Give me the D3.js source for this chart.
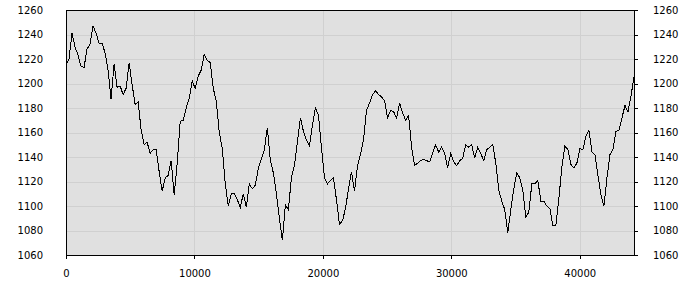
<!DOCTYPE html>
<html>
<head>
<meta charset="utf-8">
<script src="https://cdn.jsdelivr.net/npm/d3@7"></script>
<style>
  body { margin: 0; background: #fff; }
  text { font-family: "DejaVu Sans", sans-serif; font-size: 10px; fill: #000; }
</style>
</head>
<body>
<div id="chart"></div>
<script>
// Sample spacing along the x axis (one reading every step units)
const step = 234;

// Line values, left to right
const values = [
  1215, 1220, 1241, 1230, 1223, 1214, 1213, 1228, 1232, 1247,
  1241, 1233, 1233, 1225, 1211, 1187, 1216, 1197, 1198, 1191,
  1196, 1217, 1199, 1183, 1185, 1162, 1150, 1152, 1143, 1146,
  1146, 1128, 1112, 1123, 1125, 1137, 1109, 1135, 1169, 1170,
  1180, 1188, 1202, 1196, 1206, 1211, 1224, 1219, 1217, 1196,
  1186, 1160, 1147, 1118, 1100, 1110, 1110, 1105, 1099, 1110,
  1099, 1118, 1114, 1117, 1131, 1138, 1146, 1164, 1137, 1127,
  1110, 1090, 1072, 1101, 1097, 1123, 1133, 1152, 1172, 1161,
  1154, 1149, 1166, 1180, 1174, 1148, 1123, 1118, 1121, 1123,
  1105, 1085, 1088, 1098, 1114, 1128, 1112, 1133, 1142, 1154,
  1178, 1184, 1191, 1194, 1191, 1189, 1186, 1172, 1178, 1177,
  1172, 1184, 1176, 1170, 1174, 1148, 1133, 1135, 1137, 1138,
  1137, 1136, 1143, 1150, 1144, 1148, 1143, 1131, 1143, 1136,
  1133, 1137, 1139, 1150, 1148, 1150, 1139, 1148, 1143, 1137,
  1146, 1148, 1150, 1135, 1113, 1104, 1097, 1078, 1097, 1114,
  1127, 1123, 1113, 1091, 1095, 1118, 1118, 1121, 1104, 1104,
  1100, 1098, 1084, 1084, 1106, 1132, 1149, 1146, 1134, 1131,
  1135, 1147, 1146, 1157, 1162, 1144, 1142, 1125, 1109, 1100,
  1123, 1142, 1146, 1161, 1162, 1172, 1182, 1177, 1190, 1205
];

// Axis ticks
const yTicks = [1060, 1080, 1100, 1120, 1140, 1160, 1180, 1200, 1220, 1240, 1260];
const xTicks = [0, 10000, 20000, 30000, 40000];

const margin = {top: 10, right: 66, bottom: 45, left: 66};
const width = 700 - margin.left - margin.right;
const height = 300 - margin.top - margin.bottom;

const data = values.map((v, i) => ({x: i * step, y: v}));

const svg = d3.select("#chart")
  .append("svg")
  .attr("width", width + margin.left + margin.right)
  .attr("height", height + margin.top + margin.bottom)
  .append("g")
  .attr("transform", "translate(" + margin.left + "," + margin.top + ")");

const x = d3.scaleLinear()
  .domain([0, d3.max(data, d => d.x)])
  .range([0, width]);

const y = d3.scaleLinear()
  .domain([1060, 1260])
  .range([height, 0]);

// Plot background
svg.append("rect")
  .attr("width", width)
  .attr("height", height)
  .attr("fill", "#e0e0e0");

// Grid lines
svg.append("g")
  .attr("class", "grid")
  .call(d3.axisLeft(y).tickValues(yTicks.slice(1, -1)).tickSize(-width).tickFormat(""))
  .call(g => g.select(".domain").remove());

svg.append("g")
  .attr("class", "grid")
  .attr("transform", `translate(0,${height})`)
  .call(d3.axisBottom(x).tickValues(xTicks.slice(1)).tickSize(-height).tickFormat(""))
  .call(g => g.select(".domain").remove());

svg.selectAll(".grid line")
  .attr("stroke", "#d0d0d0")
  .attr("shape-rendering", "crispEdges");

// The line (aliased, like the original)
svg.append("path")
  .datum(data)
  .attr("fill", "none")
  .attr("stroke", "#000")
  .attr("stroke-width", 1)
  .attr("shape-rendering", "crispEdges")
  .attr("d", d3.line().x(d => x(d.x)).y(d => y(d.y)));

// Axes
svg.append("g")
  .attr("class", "axis")
  .call(d3.axisLeft(y).tickValues(yTicks).tickSize(0).tickPadding(23).tickFormat(d3.format("d")));

svg.append("g")
  .attr("class", "axis")
  .attr("transform", `translate(${width},0)`)
  .call(d3.axisRight(y).tickValues(yTicks).tickSizeInner(4).tickSizeOuter(0).tickPadding(15).tickFormat(d3.format("d")));

svg.append("g")
  .attr("class", "axis")
  .attr("transform", `translate(0,${height})`)
  .call(d3.axisBottom(x).tickValues(xTicks).tickSizeInner(4).tickSizeOuter(0).tickPadding(11).tickFormat(d3.format("d")));

// Top border
svg.append("line")
  .attr("x1", 0).attr("x2", width)
  .attr("y1", 0).attr("y2", 0)
  .attr("stroke", "#000");

svg.selectAll(".axis path, .axis line, line")
  .attr("shape-rendering", "crispEdges");
svg.selectAll(".axis text")
  .attr("font-family", "DejaVu Sans")
  .attr("font-size", 10);
</script>
</body>
</html>
